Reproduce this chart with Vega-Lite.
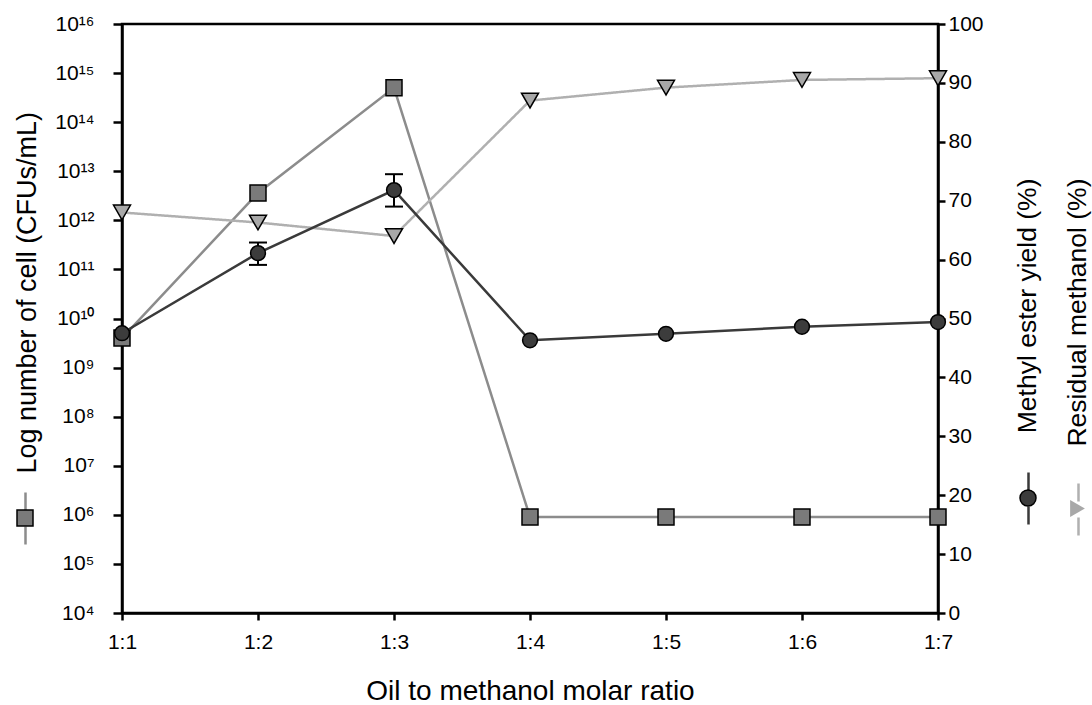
{
  "$schema": "https://vega.github.io/schema/vega-lite/v6.json",
  "width": 816,
  "height": 589,
  "autosize": {"type": "none"},
  "padding": {"left": 122, "top": 24, "right": 154, "bottom": 92},
  "background": "white",
  "config": {
    "font": "Liberation Sans",
    "view": {"stroke": "black", "strokeWidth": 2.5},
    "axis": {
      "domainColor": "black", "domainWidth": 2.5,
      "tickColor": "black", "tickWidth": 2.5,
      "labelColor": "black", "titleColor": "black",
      "titleFontWeight": "normal", "grid": false,
      "labelFont": "Liberation Sans", "titleFont": "Liberation Sans"
    },
    "legend": {"labelFontSize": 1, "labelOffset": 0, "padding": 0, "title": null}
  },
  "datasets": {
    "main": [
      {"ratio": "1:1", "cfu": 4.0e9, "yield": 47.5, "methanol": 68.0},
      {"ratio": "1:2", "cfu": 3.6e12, "yield": 61.1, "methanol": 66.3},
      {"ratio": "1:3", "cfu": 5.0e14, "yield": 71.8, "methanol": 64.0},
      {"ratio": "1:4", "cfu": 9.0e5, "yield": 46.3, "methanol": 87.0},
      {"ratio": "1:5", "cfu": 9.0e5, "yield": 47.4, "methanol": 89.2},
      {"ratio": "1:6", "cfu": 9.0e5, "yield": 48.6, "methanol": 90.5},
      {"ratio": "1:7", "cfu": 9.0e5, "yield": 49.4, "methanol": 90.8}
    ],
    "err": [
      {"ratio": "1:2", "lo": 59.1, "hi": 62.9},
      {"ratio": "1:3", "lo": 69.0, "hi": 74.5}
    ]
  },
  "layer": [
    {
      "data": {"name": "main"},
      "layer": [
        {
          "mark": {"type": "line", "strokeWidth": 2.5},
          "encoding": {
            "x": {
              "field": "ratio", "type": "ordinal",
              "scale": {"type": "point", "padding": 0, "domain": ["1:1", "1:2", "1:3", "1:4", "1:5", "1:6", "1:7"]},
              "axis": {
                "title": "Oil to methanol molar ratio", "titleFontSize": 28,
                "labelFontSize": 21, "labelAngle": 0, "tickSize": 7, "labelPadding": 11,
                "titleBaseline": "alphabetic", "titleY": 86
              }
            },
            "y": {
              "field": "cfu", "type": "quantitative",
              "scale": {"type": "log", "domain": [10000, 1e16]},
              "axis": {
                "orient": "left",
                "values": [10000, 100000, 1000000, 10000000, 100000000, 1000000000, 10000000000, 100000000000, 1000000000000, 10000000000000, 100000000000000, 1000000000000000, 10000000000000000],
                "labelExpr": "'10' + (round(log(datum.value)/LN10) >= 10 ? '¹' + substring('⁰¹²³⁴⁵⁶⁷⁸⁹', round(log(datum.value)/LN10) - 10, round(log(datum.value)/LN10) - 9) : substring('⁰¹²³⁴⁵⁶⁷⁸⁹', round(log(datum.value)/LN10), round(log(datum.value)/LN10) + 1))",
                "tickSize": 9, "labelPadding": 19, "labelFontSize": 21,
                "labelFlush": false, "labelOverlap": false,
                "title": "Log number of cell (CFUs/mL)", "titleFontSize": 27,
                "titleAngle": 270, "titleAlign": "left", "titleBaseline": "middle",
                "titleX": -95, "titleY": 449
              }
            },
            "stroke": {
              "datum": "cfu line",
              "scale": {"range": ["#8c8c8c"]},
              "legend": {
                "orient": "none", "legendX": -107, "legendY": 484,
                "labelExpr": "''",
                "symbolType": "M0,-2.9L0,-0.9M0,0.9L0,2.9",
                "symbolSize": 324, "symbolStrokeWidth": 2.5, "symbolFillColor": "transparent"
              }
            }
          }
        },
        {
          "mark": {"type": "point", "shape": "square", "filled": true, "stroke": "black", "strokeWidth": 1.5, "size": 256, "opacity": 1},
          "encoding": {
            "x": {"field": "ratio", "type": "ordinal"},
            "y": {"field": "cfu", "type": "quantitative"},
            "fill": {
              "datum": "cfu marker",
              "scale": {"range": ["#7a7a7a"]},
              "legend": {
                "orient": "none", "legendX": -106, "legendY": 485,
                "labelExpr": "''",
                "symbolType": "square", "symbolSize": 256,
                "symbolStrokeColor": "black", "symbolStrokeWidth": 1.5
              }
            }
          }
        }
      ]
    },
    {
      "data": {"name": "main"},
      "layer": [
        {
          "mark": {"type": "line", "strokeWidth": 2.5, "stroke": "#b0b0b0"},
          "encoding": {
            "x": {"field": "ratio", "type": "ordinal"},
            "y": {
              "field": "methanol", "type": "quantitative",
              "scale": {"domain": [0, 100]},
              "axis": {
                "orient": "right",
                "values": [0, 10, 20, 30, 40, 50, 60, 70, 80, 90, 100],
                "tickSize": 7, "labelPadding": 3, "labelFontSize": 21,
                "labelFlush": false, "labelOverlap": false,
                "title": ["Methyl ester yield (%)", "Residual methanol (%)"],
                "titleFontSize": 26.5, "titleAngle": 270, "titleAlign": "right",
                "titleBaseline": "middle", "titleX": 89, "titleY": 154, "titleLineHeight": 50
              }
            },
            "strokeDash": {
              "datum": "methanol line",
              "scale": {"range": [[1, 0]]},
              "legend": {
                "orient": "none", "legendX": 946, "legendY": 475,
                "labelExpr": "''",
                "symbolType": "M0,-2.9L0,-0.9M0,0.9L0,2.9",
                "symbolSize": 324, "symbolStrokeWidth": 2.5,
                "symbolStrokeColor": "#b0b0b0", "symbolFillColor": "transparent"
              }
            }
          }
        },
        {
          "mark": {"type": "line", "strokeWidth": 2.5},
          "encoding": {
            "x": {"field": "ratio", "type": "ordinal"},
            "y": {"field": "yield", "type": "quantitative"},
            "stroke": {
              "datum": "yield line",
              "scale": {"range": ["#3a3a3a"]},
              "legend": {
                "orient": "none", "legendX": 896, "legendY": 464,
                "labelExpr": "''",
                "symbolType": "M0,-2.9L0,-0.9M0,0.9L0,2.9",
                "symbolSize": 324, "symbolStrokeWidth": 2.5, "symbolFillColor": "transparent"
              }
            }
          }
        },
        {
          "data": {"name": "err"},
          "mark": {"type": "rule", "color": "black", "strokeWidth": 2},
          "encoding": {
            "x": {"field": "ratio", "type": "ordinal"},
            "y": {"field": "lo", "type": "quantitative"},
            "y2": {"field": "hi"}
          }
        },
        {
          "data": {"name": "err"},
          "mark": {"type": "tick", "color": "black", "size": 18, "thickness": 2, "orient": "horizontal", "opacity": 1},
          "encoding": {
            "x": {"field": "ratio", "type": "ordinal"},
            "y": {"field": "lo", "type": "quantitative"}
          }
        },
        {
          "data": {"name": "err"},
          "mark": {"type": "tick", "color": "black", "size": 18, "thickness": 2, "orient": "horizontal", "opacity": 1},
          "encoding": {
            "x": {"field": "ratio", "type": "ordinal"},
            "y": {"field": "hi", "type": "quantitative"}
          }
        },
        {
          "mark": {"type": "point", "shape": "triangle-down", "filled": true, "fill": "#a8a8a8", "stroke": "black", "strokeWidth": 1.5, "opacity": 1},
          "encoding": {
            "x": {"field": "ratio", "type": "ordinal"},
            "y": {"field": "methanol", "type": "quantitative"},
            "size": {
              "datum": "methanol marker",
              "scale": {"type": "ordinal", "domain": ["methanol marker"], "range": [289]},
              "legend": {
                "orient": "none", "legendX": 946, "legendY": 475,
                "labelExpr": "''",
                "symbolType": "triangle-right", "symbolSize": 289,
                "symbolFillColor": "#a8a8a8", "symbolStrokeColor": "black", "symbolStrokeWidth": 1.5,
                "encode": {
                  "symbols": {
                    "size": {"value": 289},
                    "stroke": {"value": "black"},
                    "strokeWidth": {"value": 1.5},
                    "fill": {"value": "#a8a8a8"}
                  }
                }
              }
            }
          }
        },
        {
          "mark": {"type": "point", "shape": "circle", "filled": true, "stroke": "black", "strokeWidth": 1.5, "size": 219, "opacity": 1},
          "encoding": {
            "x": {"field": "ratio", "type": "ordinal"},
            "y": {"field": "yield", "type": "quantitative"},
            "fill": {
              "datum": "yield marker",
              "scale": {"range": ["#3c3c3c"]},
              "legend": {
                "orient": "none", "legendX": 897, "legendY": 465,
                "labelExpr": "''",
                "symbolType": "circle", "symbolSize": 256,
                "symbolStrokeColor": "black", "symbolStrokeWidth": 1.5
              }
            }
          }
        }
      ]
    }
  ],
  "resolve": {"scale": {"y": "independent", "stroke": "independent", "fill": "independent"}}
}
